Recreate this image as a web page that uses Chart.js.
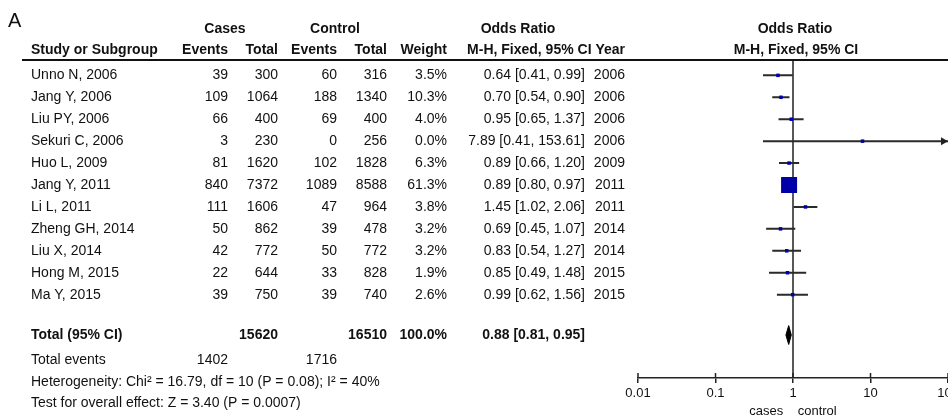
<!DOCTYPE html>
<html>
<head>
<meta charset="utf-8">
<script src="https://cdn.jsdelivr.net/npm/chart.js@4.4.1/dist/chart.umd.min.js"></script>
<style>
  html, body { margin: 0; padding: 0; background: #fff; overflow: hidden; }
  #wrap { position: relative; width: 980px; height: 416px; }
</style>
</head>
<body>
<div id="wrap"><canvas id="forest"></canvas></div>
<script>
// study rows
const studies = ['Unno N, 2006', 'Jang Y, 2006', 'Liu PY, 2006', 'Sekuri C, 2006', 'Huo L, 2009', 'Jang Y, 2011',
  'Li L, 2011', 'Zheng GH, 2014', 'Liu X, 2014', 'Hong M, 2015', 'Ma Y, 2015']
const caseEvents = [39, 109, 66, 3, 81, 840, 111, 50, 42, 22, 39]
const caseTotal = [300, 1064, 400, 230, 1620, 7372, 1606, 862, 772, 644, 750]
const ctrlEvents = [60, 188, 69, 0, 102, 1089, 47, 39, 50, 33, 39]
const ctrlTotal = [316, 1340, 400, 256, 1828, 8588, 964, 478, 772, 828, 740]
const weights = [3.5, 10.3, 4.0, 0.0, 6.3, 61.3, 3.8, 3.2, 3.2, 1.9, 2.6]
const oddsRatio = [0.64, 0.70, 0.95, 7.89, 0.89, 0.89, 1.45, 0.69, 0.83, 0.85, 0.99]
const ciLow = [0.41, 0.54, 0.65, 0.41, 0.66, 0.80, 1.02, 0.45, 0.54, 0.49, 0.62]
const ciHigh = [0.99, 0.90, 1.37, 153.61, 1.20, 0.97, 2.06, 1.07, 1.27, 1.48, 1.56]
const years = [2006, 2006, 2006, 2006, 2009, 2011, 2011, 2014, 2014, 2015, 2015]

// pooled result
const totalCases = 15620
const totalCtrl = 16510
const totalEventsCases = 1402
const totalEventsCtrl = 1716
const totalOR = 0.88
const totalLow = 0.81
const totalHigh = 0.95

const xTicks = [0.01, 0.1, 1, 10, 100]
const xTickLabels = ['0.01', '0.1', '1', '10', '100']

// row positions (in row units)
const Y_HEAD1 = -2.1, Y_HEAD2 = -1.16, Y_TOP = -0.7, Y_BOTTOM = 13.8
const Y_TOTAL = 11.84, Y_EVENTS = 12.98, Y_HET = 13.98, Y_TEST = 14.94

const FONT = '"Liberation Sans", Arial, sans-serif'
const maxW = Math.max(...weights)

const squares = studies.map((s, i) => ({ x: oddsRatio[i], y: i }))
const squareRadius = weights.map(w => Math.max(3.5, 16 * w / maxW) / Math.SQRT2)

const ciLines = []
studies.forEach((s, i) => {
  ciLines.push({ x: ciLow[i], y: i }, { x: ciHigh[i], y: i }, { x: null, y: null })
})

const diamond = [
  { x: totalLow, y: Y_TOTAL },
  { x: totalOR, y: Y_TOTAL - 0.43 },
  { x: totalHigh, y: Y_TOTAL },
  { x: totalOR, y: Y_TOTAL + 0.43 },
  { x: totalLow, y: Y_TOTAL },
]

const fmt = (v) => v.toFixed(2)

const tablePlugin = {
  id: 'table',
  afterDraw(chart) {
    const ctx = chart.ctx
    const y = chart.scales.y
    const x = chart.scales.x
    const area = chart.chartArea
    const py = (v) => y.getPixelForValue(v)
    const text = (t, xx, yy, align, bold) => {
      ctx.font = (bold ? 'bold ' : '') + '14px ' + FONT
      ctx.textAlign = align
      ctx.fillText(t, xx, yy)
    }
    ctx.save()
    ctx.fillStyle = '#111'
    ctx.textBaseline = 'middle'

    ctx.font = '20px ' + FONT
    ctx.textAlign = 'left'
    ctx.fillText('A', 8, 21)

    // header
    const h1 = py(Y_HEAD1), h2 = py(Y_HEAD2)
    text('Cases', 225, h1, 'center', true)
    text('Control', 335, h1, 'center', true)
    text('Odds Ratio', 518, h1, 'center', true)
    text('Odds Ratio', 795, h1, 'center', true)
    text('Study or Subgroup', 31, h2, 'left', true)
    text('Events', 228, h2, 'right', true)
    text('Total', 278, h2, 'right', true)
    text('Events', 337, h2, 'right', true)
    text('Total', 387, h2, 'right', true)
    text('Weight', 447, h2, 'right', true)
    text('M-H, Fixed, 95% CI Year', 625, h2, 'right', true)
    text('M-H, Fixed, 95% CI', 796, h2, 'center', true)

    ctx.strokeStyle = '#111'
    ctx.lineWidth = 2
    ctx.beginPath()
    ctx.moveTo(22, area.top)
    ctx.lineTo(948, area.top)
    ctx.stroke()

    studies.forEach((s, i) => {
      const yy = py(i)
      text(s, 31, yy, 'left')
      text(String(caseEvents[i]), 228, yy, 'right')
      text(String(caseTotal[i]), 278, yy, 'right')
      text(String(ctrlEvents[i]), 337, yy, 'right')
      text(String(ctrlTotal[i]), 387, yy, 'right')
      text(weights[i].toFixed(1) + '%', 447, yy, 'right')
      text(fmt(oddsRatio[i]) + ' [' + fmt(ciLow[i]) + ', ' + fmt(ciHigh[i]) + ']', 585, yy, 'right')
      text(String(years[i]), 625, yy, 'right')
    })

    const yt = py(Y_TOTAL)
    text('Total (95% CI)', 31, yt, 'left', true)
    text(String(totalCases), 278, yt, 'right', true)
    text(String(totalCtrl), 387, yt, 'right', true)
    text('100.0%', 447, yt, 'right', true)
    text(fmt(totalOR) + ' [' + fmt(totalLow) + ', ' + fmt(totalHigh) + ']', 585, yt, 'right', true)

    const ye = py(Y_EVENTS)
    text('Total events', 31, ye, 'left')
    text(String(totalEventsCases), 228, ye, 'right')
    text(String(totalEventsCtrl), 337, ye, 'right')
    text('Heterogeneity: Chi\u00b2 = 16.79, df = 10 (P = 0.08); I\u00b2 = 40%', 31, py(Y_HET), 'left')
    text('Test for overall effect: Z = 3.40 (P = 0.0007)', 31, py(Y_TEST), 'left')

    // tick marks also reach a little above the axis
    ctx.strokeStyle = '#222'
    ctx.lineWidth = 1.5
    xTicks.forEach(v => {
      const px = x.getPixelForValue(v)
      ctx.beginPath()
      ctx.moveTo(px, area.bottom)
      ctx.lineTo(px, area.bottom - 5)
      ctx.stroke()
    })

    // arrows for intervals running off the axis
    ctx.fillStyle = '#222'
    studies.forEach((s, i) => {
      if (ciHigh[i] > x.max) {
        const yy = py(i)
        ctx.beginPath()
        ctx.moveTo(area.right, yy)
        ctx.lineTo(area.right - 7, yy - 4)
        ctx.lineTo(area.right - 7, yy + 4)
        ctx.closePath()
        ctx.fill()
      }
    })
    ctx.restore()
  }
}

new Chart(document.getElementById('forest'), {
  type: 'scatter',
  data: {
    datasets: [
      {
        data: squares,
        pointStyle: 'rect',
        pointRadius: squareRadius,
        backgroundColor: '#0000a8',
        borderColor: '#0000a8',
        borderWidth: 0,
      },
      {
        data: diamond,
        showLine: true,
        fill: 'shape',
        backgroundColor: '#000',
        borderColor: '#000',
        borderWidth: 1,
        pointRadius: 0,
      },
      {
        data: ciLines,
        showLine: true,
        spanGaps: false,
        borderColor: '#2a2a2a',
        borderWidth: 2,
        pointRadius: 0,
      },
      {
        data: [{ x: 1, y: Y_TOP }, { x: 1, y: Y_BOTTOM }],
        showLine: true,
        borderColor: '#222',
        borderWidth: 1.5,
        pointRadius: 0,
      },
    ]
  },
  options: {
    responsive: true,
    maintainAspectRatio: false,
    animation: false,
    events: [],
    layout: { padding: { left: 638, right: 32, top: 60, bottom: 0 } },
    plugins: { legend: { display: false }, tooltip: { enabled: false } },
    scales: {
      x: {
        type: 'logarithmic',
        min: 0.01,
        max: 100,
        afterBuildTicks: (scale) => { scale.ticks = xTicks.map(v => ({ value: v })) },
        afterFit: (scale) => { scale.height = 38 },
        ticks: {
          color: '#111',
          font: { family: FONT, size: 13 },
          padding: 3,
          maxRotation: 0,
          callback: (v) => xTickLabels[xTicks.indexOf(v)] ?? '',
        },
        grid: { drawOnChartArea: false, color: '#222', lineWidth: 1.5, tickLength: 5 },
        border: { color: '#222', width: 1.5 },
        title: {
          display: true,
          text: 'cases    control',
          color: '#111',
          font: { family: FONT, size: 13 },
          padding: { top: 0, bottom: -3 },
        },
      },
      y: {
        type: 'linear',
        display: false,
        reverse: true,
        min: Y_TOP,
        max: Y_BOTTOM,
      },
    },
  },
  plugins: [tablePlugin],
})
</script>
</body>
</html>
